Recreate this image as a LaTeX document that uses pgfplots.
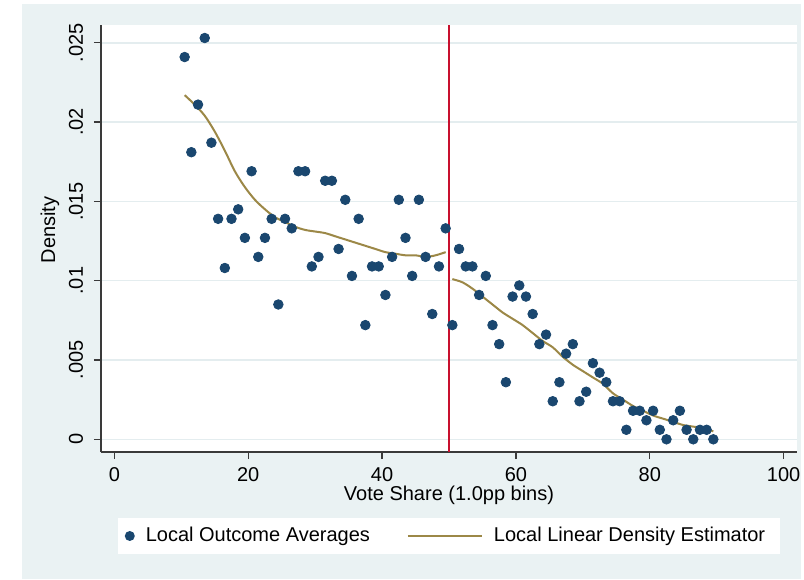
\documentclass[border=0pt]{standalone}
\usepackage{pgfplots}
\pgfplotsset{compat=1.18}
\usepackage{fontspec}
\setmainfont{Liberation Sans}
\definecolor{bgc}{HTML}{EAF2F3}
\definecolor{gridc}{HTML}{E4EDEF}
\definecolor{navyc}{HTML}{1A476F}
\definecolor{khakic}{HTML}{9C8847}
\definecolor{redc}{HTML}{C8102E}
\definecolor{axc}{HTML}{3A3A3A}

\pgfplotstableread{
x y
10.5 0.0241
11.5 0.0181
12.5 0.0211
13.5 0.0253
14.5 0.0187
15.5 0.0139
16.5 0.0108
17.5 0.0139
18.5 0.0145
19.5 0.0127
20.5 0.0169
21.5 0.0115
22.5 0.0127
23.5 0.0139
24.5 0.0085
25.5 0.0139
26.5 0.0133
27.5 0.0169
28.5 0.0169
29.5 0.0109
30.5 0.0115
31.5 0.0163
32.5 0.0163
33.5 0.0120
34.5 0.0151
35.5 0.0103
36.5 0.0139
37.5 0.0072
38.5 0.0109
39.5 0.0109
40.5 0.0091
41.5 0.0115
42.5 0.0151
43.5 0.0127
44.5 0.0103
45.5 0.0151
46.5 0.0115
47.5 0.0079
48.5 0.0109
49.5 0.0133
50.5 0.0072
51.5 0.0120
52.5 0.0109
53.5 0.0109
54.5 0.0091
55.5 0.0103
56.5 0.0072
57.5 0.0060
58.5 0.0036
59.5 0.0090
60.5 0.0097
61.5 0.0090
62.5 0.0079
63.5 0.0060
64.5 0.0066
65.5 0.0024
66.5 0.0036
67.5 0.0054
68.5 0.0060
69.5 0.0024
70.5 0.0030
71.5 0.0048
72.5 0.0042
73.5 0.0036
74.5 0.0024
75.5 0.0024
76.5 0.0006
77.5 0.0018
78.5 0.0018
79.5 0.0012
80.5 0.0018
81.5 0.0006
82.5 0.0000
83.5 0.0012
84.5 0.0018
85.5 0.0006
86.5 0.0000
87.5 0.0006
88.5 0.0006
89.5 0.0000
}\scatterdata

\pgfplotstableread{
x y
10.5 0.0217
12.0 0.0211
13.5 0.0204
15.0 0.0194
16.5 0.0182
18.0 0.0169
19.5 0.0159
21.0 0.0151
22.5 0.0145
24.0 0.0140
25.5 0.0137
27.0 0.0134
28.5 0.0132
30.0 0.0131
31.5 0.0130
33.0 0.0128
34.5 0.0126
36.0 0.0124
37.5 0.0122
39.0 0.0120
40.5 0.0118
42.0 0.0117
43.5 0.0116
45.0 0.0116
46.5 0.0115
48.0 0.0116
49.5 0.0118
}\leftline

\pgfplotstableread{
x y
50.5 0.0101
52.0 0.0099
53.5 0.0095
55.0 0.0090
56.5 0.0085
58.0 0.0080
59.5 0.0076
61.0 0.0072
62.5 0.0067
64.0 0.0062
65.5 0.0058
67.0 0.0052
68.5 0.0047
70.0 0.0043
71.5 0.0039
73.0 0.0035
74.5 0.0029
76.0 0.0025
77.5 0.0021
79.0 0.0018
80.5 0.0015
82.0 0.0013
83.5 0.0011
85.0 0.0009
86.5 0.0008
88.0 0.0007
89.5 0.0005
}\rightline

\begin{document}
\begin{tikzpicture}
\path[use as bounding box] (0,0) rectangle (402pt,289.5pt);
\fill[bgc] (11pt,0) rectangle (400.5pt,287.5pt);
\begin{axis}[
  at={(50.5pt,63.5pt)}, anchor=south west,
  scale only axis, width=348pt, height=213.5pt,
  xmin=-2, xmax=102, ymin=-0.0008, ymax=0.02612,
  axis x line*=bottom, axis y line*=left,
  axis line style={axc, line width=0.7pt},
  axis background/.style={fill=white},
  xtick={0,20,40,60,80,100},
  ytick={0,0.005,0.01,0.015,0.02,0.025},
  yticklabels={0,.005,.01,.015,.02,.025},
  scaled y ticks=false,
  tick align=outside, major tick length=3.5pt,
  tick style={axc, line width=0.7pt},
  ymajorgrids, grid style={gridc, line width=0.75pt},
  /pgf/number format/assume math mode=true,
  ticklabel style={font=\fontsize{10}{12}\selectfont},
  yticklabel style={rotate=90, anchor=center, yshift=9pt},
  xticklabel style={anchor=north, inner sep=0pt, yshift=-4pt},
  xlabel={Vote Share (1.0pp bins)},
  ylabel={Density},
  xlabel style={at={(axis description cs:0.5,0)}, anchor=center, inner sep=0pt, yshift=-21.5pt, font=\fontsize{10}{12}\selectfont},
  ylabel style={at={(axis description cs:0,0.52)}, anchor=center, yshift=25.5pt, font=\fontsize{10}{12}\selectfont},
  legend columns=2,
  legend cell align=left,
  legend style={at={(0.5,-0.1967)}, anchor=center, draw=none, fill=white,
    inner xsep=0pt, inner ysep=4.5pt,
    nodes={inner sep=0pt, font=\fontsize{10}{12}\selectfont},
    /tikz/every even column/.append style={column sep=18.5pt}},
]
\addplot[redc, line width=1.2pt, forget plot] coordinates {(50,-0.0008) (50,0.02612)};
\addplot[only marks, mark=*, mark size=2.4pt, color=navyc, mark options={draw=navyc, fill=navyc},
  legend image code/.code={\path[draw=none, fill=none] (0pt,0pt) -- (14pt,0pt); \fill[navyc, draw=none] (6pt,0pt) circle (2.5pt);}]
  table[x=x, y=y] {\scatterdata};
\addlegendentry{Local Outcome Averages}
\addplot[khakic, line width=1pt, smooth, no markers,
  legend image code/.code={\draw[khakic, line width=1pt] (0pt,0pt) -- (37pt,0pt); \path[draw=none, fill=none] (0pt,0pt) -- (43pt,0pt);}]
  table[x=x, y=y] {\leftline};
\addlegendentry{Local Linear Density Estimator\hspace*{7.5pt}}
\addplot[khakic, line width=1pt, smooth, no markers, forget plot]
  table[x=x, y=y] {\rightline};
\end{axis}
\end{tikzpicture}
\end{document}
